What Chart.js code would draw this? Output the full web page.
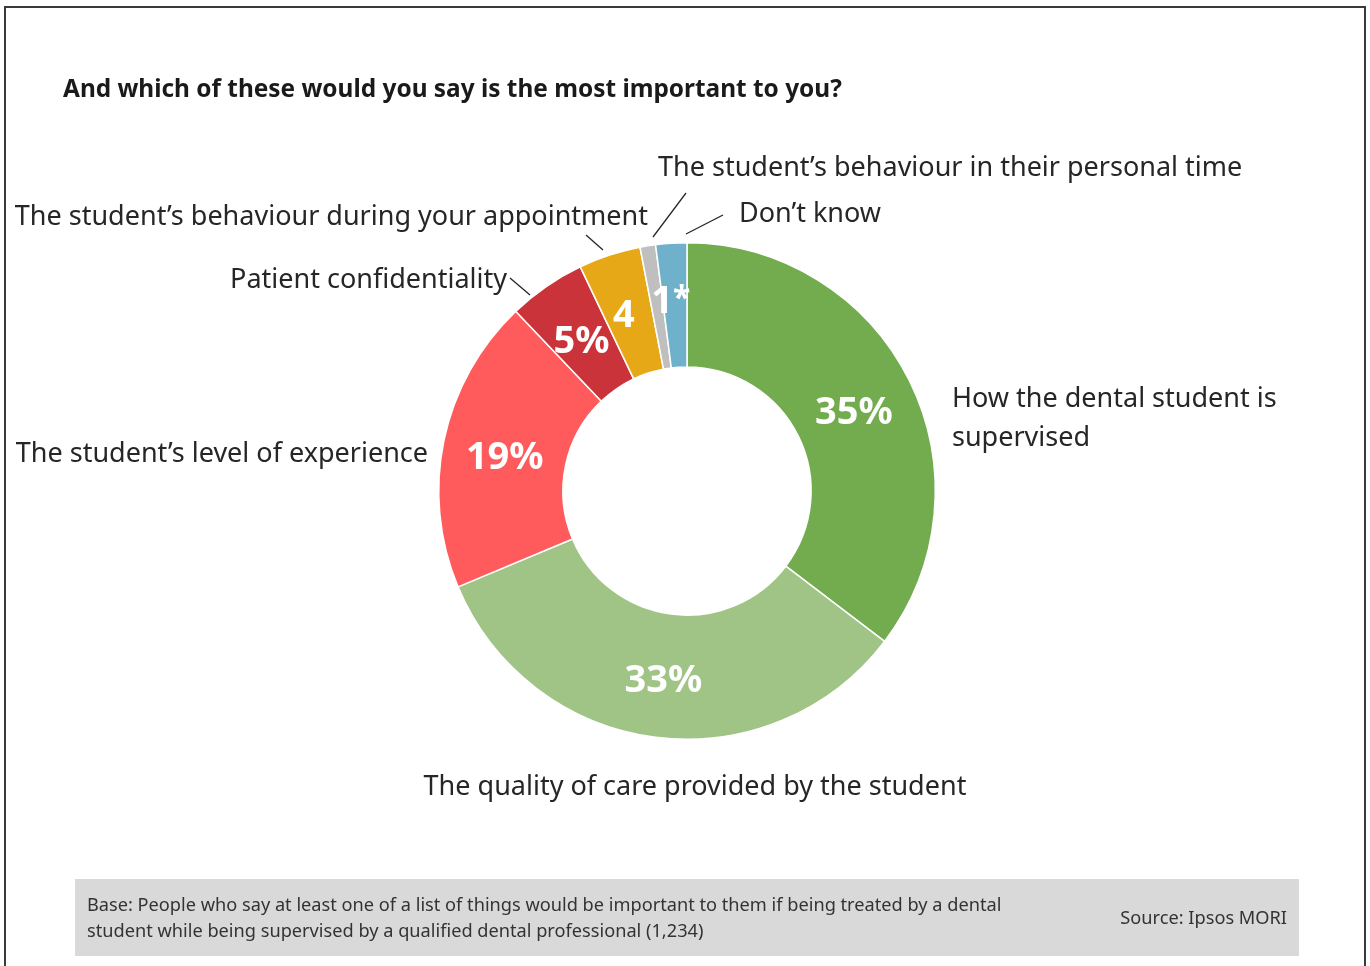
<!DOCTYPE html>
<html>
<head>
<meta charset="utf-8">
<script src="https://cdn.jsdelivr.net/npm/chart.js@4.4.1/dist/chart.umd.min.js"></script>
<style>
  html, body { margin: 0; background: #fff; }
  canvas { display: block; }
</style>
</head>
<body>
<canvas id="myChart" width="1370" height="966"></canvas>
<script>
const categories = [
  'How the dental student is supervised',
  'The quality of care provided by the student',
  'The student\u2019s level of experience',
  'Patient confidentiality',
  'The student\u2019s behaviour during your appointment',
  'The student\u2019s behaviour in their personal time',
  'Don\u2019t know'
];
const shares = [35, 33, 19, 5, 4, 1, 2];
const shareLabels = ['35%', '33%', '19%', '5%', '4', '1', '*'];
const sliceColors = ['#72AC4F', '#A0C485', '#FF5A5C', '#CB333B', '#E6A817', '#BFBFBF', '#6FB1CB'];

const titleText = 'And which of these would you say is the most important to you?';
const baseNote = [
  'Base: People who say at least one of a list of things would be important to them if being treated by a dental',
  'student while being supervised by a qualified dental professional (1,234)'
];
const sourceNote = 'Source: Ipsos MORI';

const FONT = '"Noto Sans", "Open Sans", sans-serif';
const INK = '#262626';

// category text around the ring, offsets from the ring centre
const outerText = [
  { lines: ['How the dental student is', 'supervised'], dx: 265, dy: -84, align: 'left' },
  { lines: [categories[1]], dx: 8, dy: 304, align: 'center' },
  { lines: [categories[2]], dx: -259, dy: -29, align: 'right' },
  { lines: [categories[3]], dx: -180, dy: -203, align: 'right', leader: [-177, -213, -157, -196] },
  { lines: [categories[4]], dx: -39, dy: -266, align: 'right', leader: [-101, -256, -84, -241] },
  { lines: [categories[5]], dx: -29, dy: -315, align: 'left', leader: [-1, -298, -34, -254] },
  { lines: [categories[6]], dx: 52, dy: -269, align: 'left', leader: [36, -276, -1, -257] }
];
// small slices get their value text pushed outwards a little
const valueNudge = [[0, 0], [0, 0], [0, 0], [0, 0], [-4, 3], [6, 10], [7, 10]];

const ringText = {
  id: 'ringText',
  afterDraw(chart) {
    const ctx = chart.ctx;
    const arcs = chart.getDatasetMeta(0).data;
    const cx = arcs[0].x, cy = arcs[0].y;

    ctx.save();
    // outer frame
    ctx.strokeStyle = '#3a3a3a';
    ctx.lineWidth = 2;
    ctx.strokeRect(5, 7, 1360, 1000);

    // title
    ctx.fillStyle = '#1a1a1a';
    ctx.font = 'bold 24.4px ' + FONT;
    ctx.textAlign = 'left';
    ctx.textBaseline = 'alphabetic';
    ctx.fillText(titleText, 63, 97);

    // values inside the slices
    ctx.fillStyle = '#fff';
    ctx.textAlign = 'center';
    ctx.textBaseline = 'middle';
    arcs.forEach((arc, i) => {
      const p = arc.getProps(['startAngle', 'endAngle', 'innerRadius', 'outerRadius']);
      const mid = (p.startAngle + p.endAngle) / 2;
      const r = (p.innerRadius + p.outerRadius) / 2 + valueNudge[i][1];
      const x = cx + Math.cos(mid) * r + valueNudge[i][0];
      const y = cy + Math.sin(mid) * r + 5;
      ctx.font = (shareLabels[i] === '*' ? 'bold 32px ' : 'bold 38px ') + FONT;
      ctx.fillText(shareLabels[i], x, y);
    });

    // category names and leader lines
    ctx.fillStyle = INK;
    ctx.strokeStyle = '#262626';
    ctx.lineWidth = 1.3;
    ctx.textBaseline = 'alphabetic';
    ctx.font = '27px ' + FONT;
    outerText.forEach(t => {
      ctx.textAlign = t.align;
      t.lines.forEach((line, k) => ctx.fillText(line, cx + t.dx, cy + t.dy + k * 38.5));
      if (t.leader) {
        const [x1, y1, x2, y2] = t.leader;
        ctx.beginPath();
        ctx.moveTo(cx + x1, cy + y1);
        ctx.lineTo(cx + x2, cy + y2);
        ctx.stroke();
      }
    });

    // base / source box
    ctx.fillStyle = '#D9D9D9';
    ctx.fillRect(75, 879, 1224, 77);
    ctx.fillStyle = '#333';
    ctx.font = '18.2px ' + FONT;
    ctx.textAlign = 'left';
    ctx.fillText(baseNote[0], 87, 911);
    ctx.fillText(baseNote[1], 87, 937);
    ctx.textAlign = 'right';
    ctx.fillText(sourceNote, 1287, 924);
    ctx.restore();
  }
};

const ctx = document.getElementById('myChart');

new Chart(ctx, {
  type: 'doughnut',
  data: {
    labels: categories,
    datasets: [{
      data: shares,
      backgroundColor: sliceColors,
      borderColor: '#fff',
      borderWidth: 1.5
    }]
  },
  options: {
    responsive: false,
    animation: false,
    events: [],
    cutout: '50%',
    layout: { padding: { left: 438, right: 434, top: 242, bottom: 226 } },
    plugins: {
      legend: { display: false },
      tooltip: { enabled: false }
    }
  },
  plugins: [ringText]
});
</script>
</body>
</html>
